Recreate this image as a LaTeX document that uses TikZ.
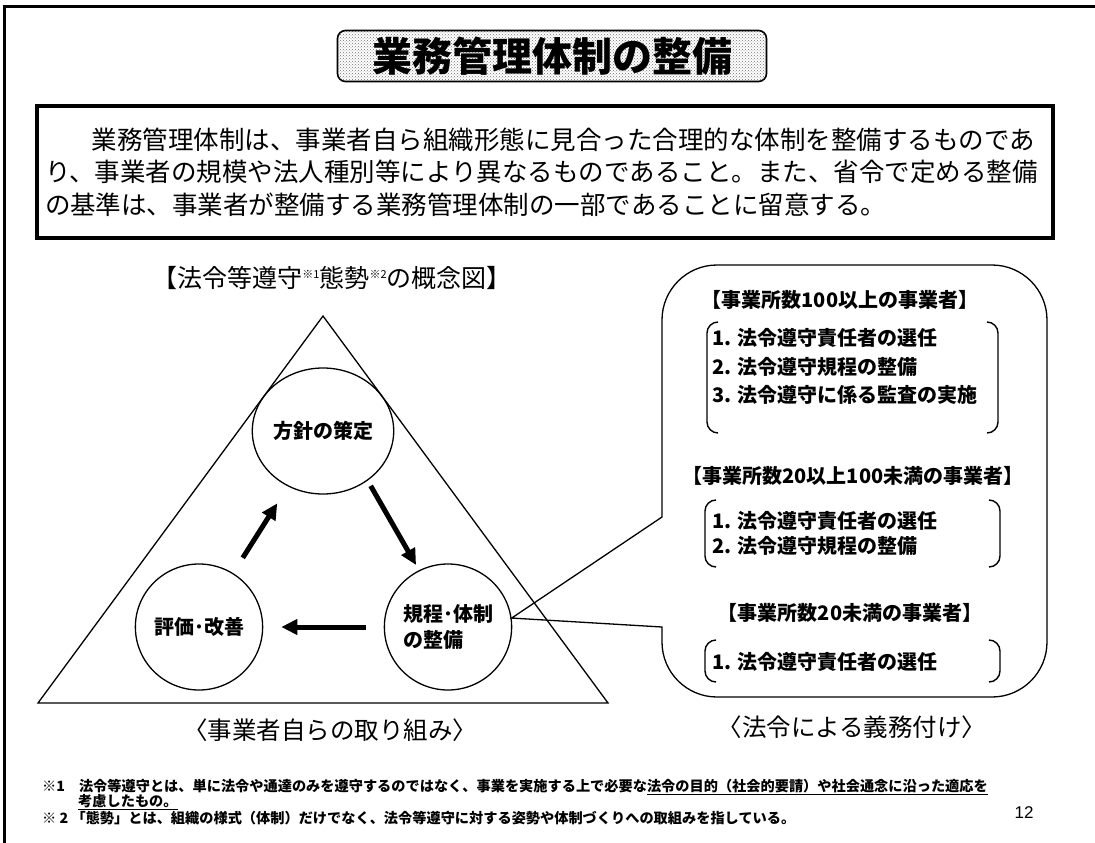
\documentclass[tikz,border=0pt]{standalone}
\usepackage{fontspec}
\setmainfont{Noto Sans CJK JP}
\newfontfamily\arialf{Liberation Sans}
\usetikzlibrary{arrows.meta,shapes.geometric,patterns}
\newcommand\myfs[2]{\fontsize{#1pt}{#2pt}\selectfont}
\newcommand\brackpair[4]{%
  \draw[brk] ({#1+11},{-#3}) arc[start angle=90,end angle=180,radius=11] -- (#1,{-#4+11}) arc[start angle=180,end angle=270,radius=11];
  \draw[brk] ({#2-11},{-#3}) arc[start angle=90,end angle=0,radius=11] -- (#2,{-#4+11}) arc[start angle=0,end angle=-90,radius=11];}
\begin{document}
\begin{tikzpicture}[x=1pt,y=1pt,
  circ/.style={ellipse, draw, line width=1.3pt, minimum width=122pt, minimum height=126pt, inner sep=0pt, font=\myfs{20}{26}\bfseries, align=left},
  flow/.style={line width=5pt, -{Triangle[length=16pt,width=15pt]}},
  brk/.style={line width=1.4pt},
  item/.style={anchor=west, inner sep=0pt, font=\myfs{20}{24}\bfseries},
  head/.style={inner sep=0pt, font=\myfs{20}{24}\bfseries},
  note/.style={anchor=west, inner sep=0pt, font=\myfs{14.2}{16}\bfseries},
  captext/.style={inner sep=0pt, font=\myfs{24.5}{28}}]
\useasboundingbox (0,0) rectangle (1095,-843);
% page frame
\draw[line width=3pt] (4,-843) -- (4,-7) -- (1095,-7);
% title
\node[draw, line width=1.6pt, rounded corners=8pt, pattern=crosshatch dots, pattern color=black!55,
      minimum width=429pt, minimum height=51pt, inner sep=0pt, font=\myfs{40}{44}\bfseries] (title) at (552,-56) {業務管理体制の整備};
% intro box
\node[draw, line width=4pt, text width=1000pt, inner sep=8pt, minimum height=132pt, align=left,
      font=\myfs{25.5}{32.5}] (intro) at (545,-172)
  {\hspace*{47pt}業務管理体制は、事業者自ら組織形態に見合った合理的な体制を整備するものであ\\り、事業者の規模や法人種別等により異なるものであること。また、省令で定める整備\\の基準は、事業者が整備する業務管理体制の一部であることに留意する。};
% concept title
\node[inner sep=0pt, font=\myfs{25}{28}] (ctitle) at (332,-278)
  {【法令等遵守\raisebox{9pt}{\myfs{11}{11}※1}態勢\raisebox{9pt}{\myfs{11}{11}※2}の概念図】};
% triangle
\coordinate (apex) at (323,-316);
\coordinate (bl) at (38,-703);
\coordinate (br) at (608,-703);
\draw[line width=1.3pt] (apex) -- (bl) -- (br) -- cycle;
% cycle circles
\node[circ] (policy) at (323,-431) {方針の策定};
\node[circ] (eval) at (199,-627) {評価･改善};
\node[circ] (rules) at (448,-627) {規程･体制\\の整備};
\draw[flow, shorten <=18pt, shorten >=20pt] (eval) -- (policy);
\draw[flow, shorten <=6pt, shorten >=6pt] (policy.-48) -- (rules.117);
\draw[flow, shorten <=18pt, shorten >=18pt] (rules) -- (eval);
\node[captext] (own) at (330,-730) {〈事業者自らの取り組み〉};
% callout
\coordinate (tip) at (rules.8);
\draw[line width=1.3pt] (662,-517) -- (662,-320) arc[start angle=180,end angle=90,radius=55]
  -- (992,-265) arc[start angle=90,end angle=0,radius=55]
  -- (1047,-642) arc[start angle=0,end angle=-90,radius=55]
  -- (717,-697) arc[start angle=270,end angle=180,radius=55]
  -- (662,-627) -- (tip) -- cycle;
\node[head] (h1) at (840,-300) {【事業所数100以上の事業者】};
\brackpair{707}{998}{322}{433}
\node[item] (a1) at (712,-338) {1. 法令遵守責任者の選任};
\node[item] (a2) at (712,-367) {2. 法令遵守規程の整備};
\node[item] (a3) at (712,-395) {3. 法令遵守に係る監査の実施};
\node[head] (h2) at (853,-476) {【事業所数20以上100未満の事業者】};
\brackpair{705}{1000}{500}{567}
\node[item] (b1) at (712,-521) {1. 法令遵守責任者の選任};
\node[item] (b2) at (712,-546) {2. 法令遵守規程の整備};
\node[head] (h3) at (850,-613) {【事業所数20未満の事業者】};
\brackpair{705}{1000}{640}{682}
\node[item] (c1) at (712,-662) {1. 法令遵守責任者の選任};
\node[captext] (law) at (852,-727) {〈法令による義務付け〉};
% footnotes
\node[note] (fn1) at (42,-787) {※1\hspace{14pt}法令等遵守とは、単に法令や通達のみを遵守するのではなく、事業を実施する上で必要な\underline{法令の目的（社会的要請）や社会通念に沿った適応を}};
\node[note] (fn1b) at (78,-802) {\underline{考慮したもの。}};
\node[note] (fn2) at (42,-818) {※ 2 「態勢」とは、組織の様式（体制）だけでなく、法令等遵守に対する姿勢や体制づくりへの取組みを指している。};
\node[inner sep=0pt, font=\arialf\myfs{17}{20}] (pnum) at (1024,-813) {12};
\end{tikzpicture}
\end{document}
